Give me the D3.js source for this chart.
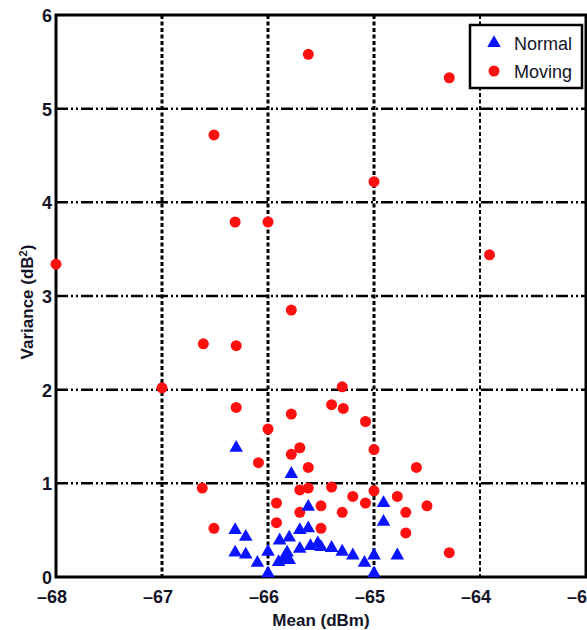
<!DOCTYPE html>
<html lang="en">
<head>
<meta charset="UTF-8">
<title>Mean vs variance</title>
<script src="https://d3js.org/d3.v7.min.js"></script>
<style>
  body { margin: 0; background: #fff; }
  text { font-family: "Liberation Sans Narrow", "Liberation Sans", Arial, sans-serif; fill: #141428; }
</style>
</head>
<body>
<script>
// tick values
var xTicks = [-68, -67, -66, -65, -64, -63];
var yTicks = [0, 1, 2, 3, 4, 5, 6];

// Normal (blue triangles): mean, variance
var normalMean = [-66.30, -65.78, -65.62, -64.91, -64.91, -66.31, -66.21, -66.31, -66.21, -66.10,
                  -66.00, -66.00, -65.90, -65.80, -65.80, -65.70, -65.62, -65.70, -65.60, -65.50,
                  -65.40, -65.30, -65.20, -65.09, -65.00, -65.00, -64.78, -65.85, -65.89, -65.82,
                  -65.53];
var normalVar  = [1.38, 1.10, 0.75, 0.79, 0.59, 0.50, 0.43, 0.26, 0.24, 0.15,
                  0.27, 0.04, 0.16, 0.18, 0.42, 0.50, 0.52, 0.30, 0.33, 0.32,
                  0.31, 0.27, 0.23, 0.15, 0.23, 0.04, 0.23, 0.20, 0.39, 0.26,
                  0.36];

// Moving (red dots): mean, variance
var movingMean = [-68.00, -66.51, -66.31, -66.00, -65.62, -65.00, -64.29, -63.91, -65.78, -66.61,
                  -66.30, -67.00, -66.30, -66.00, -66.09, -66.62, -66.51, -65.78, -65.70, -65.78,
                  -65.62, -65.70, -65.62, -65.92, -65.70, -65.92, -65.30, -65.40, -65.29, -65.08,
                  -65.00, -64.60, -65.40, -65.20, -65.00, -65.08, -64.78, -65.50, -65.30, -64.70,
                  -64.50, -65.50, -64.70, -64.29];
var movingVar  = [3.34, 4.72, 3.79, 3.79, 5.58, 4.22, 5.33, 3.44, 2.85, 2.49,
                  2.47, 2.02, 1.81, 1.58, 1.22, 0.95, 0.52, 1.74, 1.38, 1.31,
                  1.17, 0.93, 0.95, 0.79, 0.69, 0.58, 2.03, 1.84, 1.80, 1.66,
                  1.36, 1.17, 0.96, 0.86, 0.92, 0.79, 0.86, 0.76, 0.69, 0.69,
                  0.76, 0.52, 0.47, 0.26];

var W = 587, H = 630;
var margin = {left: 56, top: 15, right: 1, bottom: 53};

var svg = d3.select("body").append("svg")
    .attr("width", W)
    .attr("height", H);

var x = d3.scaleLinear().domain([-68, -63]).range([margin.left, W - margin.right]);
var y = d3.scaleLinear().domain([0, 6]).range([H - margin.bottom, margin.top]);

// grid
svg.append("g").selectAll("line")
    .data(yTicks.slice(1, -1))
    .enter().append("line")
    .attr("x1", x(-68)).attr("x2", x(-63))
    .attr("y1", function(d){ return y(d); })
    .attr("y2", function(d){ return y(d); })
    .attr("stroke", "#000")
    .attr("stroke-width", 2.5)
    .attr("stroke-dasharray", "12,3,2,3,2,3");

svg.append("g").selectAll("line")
    .data(xTicks.slice(1, -1))
    .enter().append("line")
    .attr("x1", function(d){ return x(d); })
    .attr("x2", function(d){ return x(d); })
    .attr("y1", y(6)).attr("y2", y(0))
    .attr("stroke", "#000")
    .attr("stroke-width", function(d){ return d == -64 ? 2 : 3; })
    .attr("stroke-dasharray", "4,2.5");

// frame
svg.append("rect")
    .attr("x", x(-68)).attr("y", y(6))
    .attr("width", x(-63) - x(-68))
    .attr("height", y(0) - y(6))
    .attr("fill", "none")
    .attr("stroke", "#000")
    .attr("stroke-width", 3);

// axes labels (the last x label runs off the right edge, as in the source)
svg.append("g").selectAll("text")
    .data(xTicks)
    .enter().append("text")
    .attr("x", function(d){ return x(d) - 4; })
    .attr("y", y(0) + 26)
    .attr("text-anchor", "middle")
    .style("font-size", "18px")
    .style("font-weight", "bold")
    .text(function(d){ return "\u2013" + Math.abs(d); });

svg.append("g").selectAll("text")
    .data(yTicks)
    .enter().append("text")
    .attr("x", x(-68) - 4)
    .attr("y", function(d){ return y(d) + 7; })
    .attr("text-anchor", "end")
    .style("font-size", "18px")
    .style("font-weight", "bold")
    .text(function(d){ return d; });

svg.append("text")
    .attr("x", 321).attr("y", 626)
    .attr("text-anchor", "middle")
    .style("font-size", "17px")
    .style("font-weight", "bold")
    .text("Mean (dBm)");

svg.append("text")
    .attr("transform", "translate(33,302) rotate(-90)")
    .attr("text-anchor", "middle")
    .style("font-size", "17px")
    .style("font-weight", "bold")
    .html("Variance (dB<tspan dy='-6' font-size='11px'>2</tspan><tspan dy='6'>)</tspan>");

// markers
var tri = d3.symbol().type(d3.symbolTriangle).size(80);

svg.append("g").selectAll("circle")
    .data(d3.range(movingMean.length))
    .enter().append("circle")
    .attr("cx", function(i){ return x(movingMean[i]); })
    .attr("cy", function(i){ return y(movingVar[i]); })
    .attr("r", 5.5)
    .attr("fill", "#ff1010");

svg.append("g").selectAll("path")
    .data(d3.range(normalMean.length))
    .enter().append("path")
    .attr("d", tri)
    .attr("transform", function(i){ return "translate(" + x(normalMean[i]) + "," + y(normalVar[i]) + ")"; })
    .attr("fill", "#0a14ff");

// legend
var lg = svg.append("g");
lg.append("rect")
    .attr("x", 470).attr("y", 25)
    .attr("width", 112).attr("height", 63)
    .attr("fill", "#fff")
    .attr("stroke", "#000")
    .attr("stroke-width", 2.5);
lg.append("path")
    .attr("d", tri)
    .attr("transform", "translate(494,43)")
    .attr("fill", "#0a14ff");
lg.append("circle")
    .attr("cx", 494).attr("cy", 71).attr("r", 5.5)
    .attr("fill", "#ff1010");
lg.append("text").attr("x", 514).attr("y", 50)
    .style("font-size", "18px").text("Normal");
lg.append("text").attr("x", 514).attr("y", 78)
    .style("font-size", "18px").text("Moving");
</script>
</body>
</html>
